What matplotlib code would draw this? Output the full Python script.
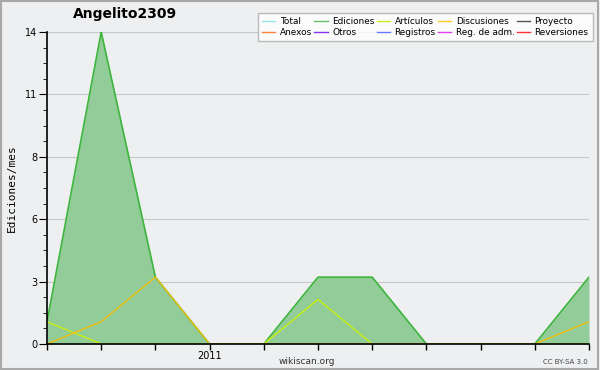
import numpy as np
import matplotlib
matplotlib.use("Agg")
import matplotlib.pyplot as plt
from matplotlib.lines import Line2D
from matplotlib.ticker import FixedLocator, MultipleLocator

# monthly edits, Oct 2010 .. Aug 2011
months = list(range(11))
month_labels = ["", "", "", "2011", "", "", "", "", "", "", ""]
ediciones = [1, 14, 3, 0, 0, 3, 3, 0, 0, 0, 3]
articulos = [1, 0, 0, 0, 0, 2, 0, 0, 0, 0, 0]
discusiones = [0, 1, 3, 0, 0, 0, 0, 0, 0, 0, 1]

legend_names = ["Total", "Anexos", "Ediciones", "Otros", "Artículos", "Registros",
                "Discusiones", "Reg. de adm.", "Proyecto", "Reversiones"]
legend_colors = ["#99e5e5", "#ff8040", "#66c066", "#8833ee", "#c8f020", "#6677ff",
                 "#ffcc22", "#e040f0", "#555555", "#ff3333"]

bg = "#eeeff1"
fig = plt.figure(figsize=(6, 3.7), dpi=100, facecolor=bg)
fig.patches.append(plt.Rectangle((0.002, 0.003), 0.995, 0.994, transform=fig.transFigure,
                                 fill=False, edgecolor="#a8a8a8", linewidth=1.5))
ax = fig.add_axes([47/600, 1 - 344/370, (589 - 47)/600, (344 - 32)/370])
ax.set_facecolor(bg)

ax.fill_between(months, ediciones, 0, color="#92cc98", linewidth=0)
ax.plot(months, ediciones, color="#3db53d", linewidth=1.2)
ax.plot(months, articulos, color="#c8ee10", linewidth=1.0)
ax.plot(months, discusiones, color="#f0c010", linewidth=1.0)

ax.set_xlim(0, 10)
ax.set_ylim(0, 14)
major = [0, 2.8, 5.6, 8.4, 11.2, 14]
ax.yaxis.set_major_locator(FixedLocator(major))
ax.set_yticklabels(["0", "3", "6", "8", "11", "14"])
ax.yaxis.set_minor_locator(MultipleLocator(0.7))
ax.set_xticks(months)
ax.set_xticklabels(month_labels)
ax.grid(axis="y", color="#c8c8c8", linewidth=0.8)
ax.set_axisbelow(True)
for s in ["top", "right"]:
    ax.spines[s].set_visible(False)
ax.spines["left"].set_linewidth(1.2)
ax.spines["bottom"].set_linewidth(1.2)
ax.tick_params(axis="y", which="major", length=6, labelsize=7, color="black", pad=1)
ax.tick_params(axis="y", which="minor", length=3)
ax.tick_params(axis="x", length=4, labelsize=7, pad=1, width=1)

ax.set_ylabel("Ediciones/mes", fontsize=8, family="DejaVu Sans Mono", labelpad=6)
fig.text(125/600, 1 - 14/370, "Angelito2309", fontsize=10, fontweight="bold", ha="center", va="center")
fig.text(307/600, 1 - 361/370, "wikiscan.org", fontsize=6.5, ha="center", va="center", color="#333333")
fig.text(588/600, 1 - 362/370, "CC BY-SA 3.0", fontsize=5, ha="right", va="center", color="#444444")

handles = [Line2D([0], [0], color=c, linewidth=1) for c in legend_colors]
leg = fig.legend(handles, legend_names, ncol=5, loc="upper right", bbox_to_anchor=(597/600, 1 - 9/370),
                 fontsize=6.4, frameon=True, fancybox=False, handlelength=1.5, handletextpad=0.5,
                 columnspacing=0.25, labelspacing=0.15, borderpad=0.45)
leg.get_frame().set_edgecolor("#aaaaaa")
leg.get_frame().set_facecolor("white")
leg.get_frame().set_linewidth(1)

fig.savefig("out.png", dpi=100, facecolor=bg)
